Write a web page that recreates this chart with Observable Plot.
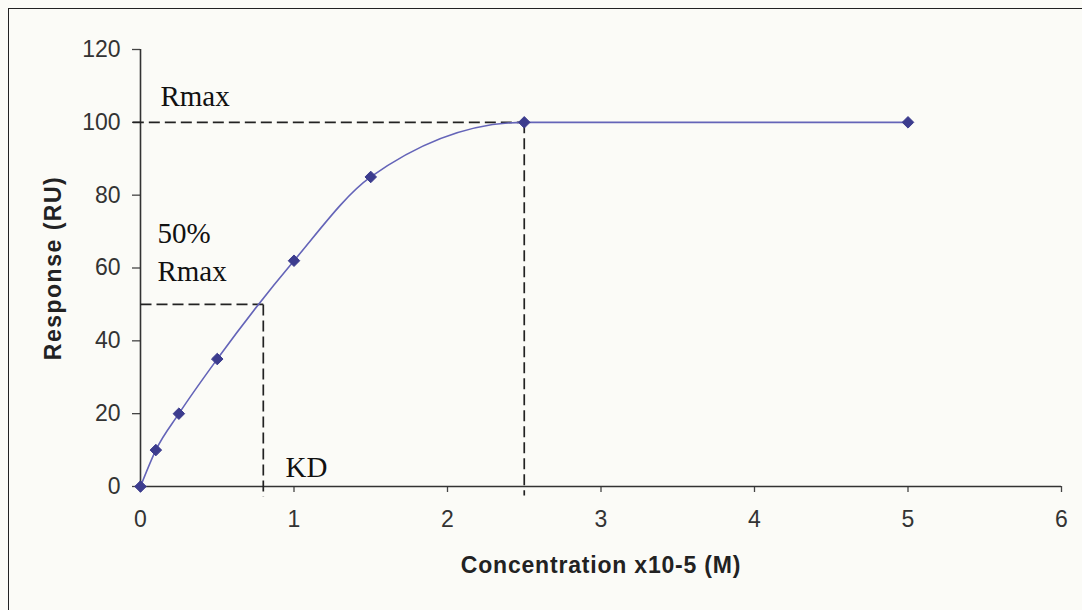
<!DOCTYPE html>
<html>
<head>
<meta charset="utf-8">
<script src="https://cdn.jsdelivr.net/npm/d3@7"></script>
<script src="https://cdn.jsdelivr.net/npm/@observablehq/plot@0.6"></script>
<style>
  html, body { margin: 0; padding: 0; background: #fbfbf7; }
  #wrap { position: relative; width: 1082px; height: 610px; overflow: hidden; }
  #border { position: absolute; left: 8px; top: 8px; width: 1200px; height: 800px;
            border-left: 1.5px solid #222; border-top: 1.5px solid #222; pointer-events: none; }
</style>
</head>
<body>
<div id="wrap"><div id="border"></div></div>
<script>
// Data
const concentration = [0, 0.1, 0.25, 0.5, 1, 1.5, 2.5, 5];
const response      = [0, 10, 20, 35, 62, 85, 100, 100];
const xTicks = [0, 1, 2, 3, 4, 5, 6];
const yTicks = [0, 20, 40, 60, 80, 100, 120];

// Reference (dashed) lines: Rmax and 50% Rmax / KD
const refX1 = [-0.05, 2.5, 0, 0.8];
const refY1 = [100, 100, 50, 50];
const refX2 = [2.5, 2.5, 0.8, 0.8];
const refY2 = [100, -2.5, 50, -2.8];

// Annotation labels
const noteText = ["Rmax", "50%\nRmax", "KD"];
const noteX = [0.13, 0.11, 0.945];
const noteY = [104.5, 56.5, 2.5];

const yTitle = "Response (RU)";
const xTitle = "Concentration x10-5 (M)";

const points = concentration.map((c, i) => ({c, r: response[i]}));
const refs = refX1.map((x1, i) => ({x1, y1: refY1[i], x2: refX2[i], y2: refY2[i]}));
const notes = noteText.map((t, i) => ({t, x: noteX[i], y: noteY[i]}));

const sans = "Arial, 'Liberation Sans', sans-serif";
const serif = "'Times New Roman', 'Liberation Serif', serif";

const chart = Plot.plot({
  width: 1082,
  height: 610,
  marginLeft: 140,
  marginRight: 21,
  marginTop: 49,
  marginBottom: 124,
  style: {background: "transparent", fontFamily: sans, fontSize: "23px", overflow: "visible"},
  x: {domain: [0, 6]},
  y: {domain: [0, 120]},
  marks: [
    Plot.axisY({ticks: yTicks, tickFormat: d => String(d), tickSize: 8, tickPadding: 12, fontSize: 23, fill: "#333", stroke: "#444", strokeWidth: 1.3, label: null}),
    Plot.axisX({ticks: xTicks, tickFormat: d => String(d), tickSize: 6, tickPadding: 18, fontSize: 23, fill: "#333", stroke: "#444", strokeWidth: 1.3, label: null}),
    Plot.ruleX([0], {y1: 0, y2: 120, stroke: "#333", strokeWidth: 1.6}),
    Plot.ruleY([0], {x1: 0, x2: 6, stroke: "#333", strokeWidth: 1.6}),
    Plot.link(refs, {x1: "x1", y1: "y1", x2: "x2", y2: "y2", stroke: "#222", strokeWidth: 1.7, strokeDasharray: "11,5", clip: false}),
    Plot.line(points, {x: "c", y: "r", curve: "monotone-x", stroke: "#6464b8", strokeWidth: 1.6}),
    Plot.dot(points, {x: "c", y: "r", symbol: "diamond2", r: 5.2, fill: "#3c3c8e", stroke: "#3c3c8e", strokeWidth: 1}),
    Plot.text(notes, {x: "x", y: "y", text: "t", textAnchor: "start", lineAnchor: "bottom", lineHeight: 1.3, fontSize: 29, fontFamily: serif, fill: "#111"}),
    Plot.text([yTitle], {frameAnchor: "left", textAnchor: "middle", lineAnchor: "middle", dx: -87, rotate: -90, fontSize: 23, fontWeight: "bold", fill: "#222"}),
    Plot.text([xTitle], {frameAnchor: "bottom", textAnchor: "middle", lineAnchor: "middle", dy: 79, fontSize: 23, fontWeight: "bold", fill: "#222"})
  ]
});
d3.select(chart).selectAll("text").each(function () {
  const t = this.textContent;
  if (t === yTitle) d3.select(this).attr("letter-spacing", "1.5px");
  if (t === xTitle) d3.select(this).attr("letter-spacing", "0.8px");
});
document.getElementById("wrap").appendChild(chart);
chart.style.position = "absolute";
chart.style.left = "0";
chart.style.top = "0";
</script>
</body>
</html>
